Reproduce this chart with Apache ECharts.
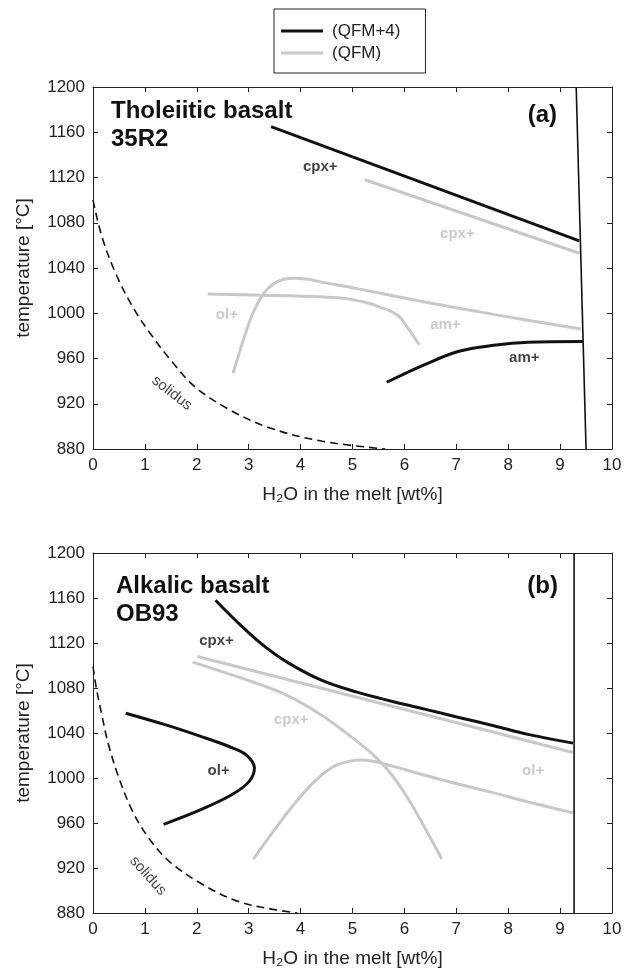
<!DOCTYPE html>
<html>
<head>
<meta charset="utf-8">
<script src="https://cdn.jsdelivr.net/npm/echarts@6/dist/echarts.min.js"></script>
<style>
  html, body { margin: 0; padding: 0; background: #fff; }
  #chart { width: 626px; height: 975px; }
</style>
</head>
<body>
<div id="chart"></div>
<script>
// Axis ranges and ticks (shared by both panels)
const xTicks = [0, 1, 2, 3, 4, 5, 6, 7, 8, 9, 10];
const yTicks = [880, 920, 960, 1000, 1040, 1080, 1120, 1160, 1200];

// Panel (a): tholeiitic basalt 35R2 — [H2O wt%, T °C]
const tholCpxQfm4 = [[3.43, 1165], [9.37, 1064]];
const tholCpxQfm = [[5.24, 1118], [9.37, 1053]];
const tholOlQfm = [[2.70, 947], [2.88, 974], [3.08, 1000], [3.28, 1017], [3.48, 1026], [3.68, 1030],
  [3.87, 1031], [4.14, 1030], [4.40, 1027.5], [5.07, 1022], [6.39, 1010], [7.72, 999], [9.40, 986]];
const tholAmQfm = [[2.21, 1017], [3.28, 1016], [4.40, 1014.5], [4.93, 1012.7], [5.33, 1008.6],
  [5.55, 1005], [5.73, 1002], [5.90, 997], [6.05, 988], [6.29, 972]];
const tholAmQfm4 = [[5.66, 939], [6.39, 954.6], [7.05, 966.4], [7.72, 971.7], [8.38, 974.4], [9.44, 975]];
const tholSolidus = [[0, 1100], [0.17, 1068], [0.43, 1036], [0.76, 1006], [1.09, 983], [1.49, 959],
  [1.95, 935.5], [2.62, 915], [3.41, 898.6], [4.40, 887], [5.63, 880]];
const tholLiquidus = [[9.31, 1200], [9.50, 880]];
const tholLabels = [
  ['cpx+', 4.38, 1129, 'k'], ['cpx+', 7.02, 1070, 'g'], ['ol+', 2.58, 999, 'g'],
  ['am+', 6.79, 990, 'g'], ['am+', 8.31, 960.5, 'k'], ['solidus', 1.52, 929.5, 's']
];

// Panel (b): alkalic basalt OB93
const alkCpxQfm4 = [[2.36, 1158], [2.75, 1140], [3.21, 1120.6], [3.74, 1103], [4.40, 1087], [5.07, 1076.5],
  [5.73, 1068.5], [6.39, 1061.2], [7.05, 1053.8], [7.72, 1046.5], [8.38, 1038.8], [9.25, 1031]];
const alkCpxQfm = [[2.01, 1108], [9.25, 1022.6]];
const alkAmQfm = [[1.92, 1103], [3.08, 1085.3], [3.74, 1073.5], [4.40, 1056], [4.93, 1038.2], [5.40, 1020.6],
  [5.73, 1004.4], [6.06, 982.4], [6.39, 956], [6.72, 928]];
const alkOlQfm = [[3.09, 928], [3.48, 953], [3.87, 976.5], [4.27, 997], [4.67, 1011], [5.20, 1016],
  [5.73, 1011], [6.39, 1002.4], [7.05, 994.4], [7.72, 986.8], [8.38, 978.8], [9.25, 969]];
const alkOlQfm4 = [[0.63, 1057.6], [1.42, 1047], [2.09, 1036.8], [2.62, 1028], [2.95, 1020.6], [3.11, 1008.8],
  [3.01, 997], [2.68, 985.3], [2.09, 972.1], [1.36, 958.8]];
const alkSolidus = [[0, 1099], [0.066, 1079.4], [0.17, 1056], [0.30, 1029.4], [0.50, 1000], [0.76, 970.6],
  [1.09, 945.6], [1.49, 925], [2.09, 906], [2.75, 891], [3.38, 884], [3.94, 880]];
const alkLiquidus = [[9.27, 1200], [9.27, 880]];
const alkLabels = [
  ['cpx+', 2.38, 1122, 'k'], ['cpx+', 3.82, 1051.5, 'g'], ['ol+', 2.42, 1006, 'k'],
  ['ol+', 8.48, 1006, 'g'], ['solidus', 1.06, 913, 's']
];

const legendNames = ['(QFM+4)', '(QFM)'];

const FONT = "'Liberation Sans', Arial, Helvetica, sans-serif";
const BLACK = '#111111';
const GRAY = '#c8c8c8';
const AXIS = '#222222';

function xAxisPair(gridIndex) {
  const base = {
    gridIndex, type: 'value', min: xTicks[0], max: xTicks[xTicks.length - 1], interval: 1,
    axisLine: { onZero: false, lineStyle: { color: AXIS, width: 1 } },
    axisTick: { inside: true, length: 5, lineStyle: { color: AXIS } },
    splitLine: { show: false }
  };
  return [
    Object.assign({}, base, {
      position: 'bottom',
      name: 'H\u2082O in the melt [wt%]', nameLocation: 'middle', nameGap: 36,
      nameTextStyle: { fontFamily: FONT, fontSize: 19, color: AXIS },
      axisLabel: { fontFamily: FONT, fontSize: 17, color: AXIS, margin: 8, formatter: v => String(v) }
    }),
    Object.assign({}, base, { position: 'top', axisLabel: { show: false } })
  ];
}
function yAxisPair(gridIndex) {
  const base = {
    gridIndex, type: 'value', min: yTicks[0], max: yTicks[yTicks.length - 1], interval: 40,
    axisLine: { onZero: false, lineStyle: { color: AXIS, width: 1 } },
    axisTick: { inside: true, length: 5, lineStyle: { color: AXIS } },
    splitLine: { show: false }
  };
  return [
    Object.assign({}, base, {
      position: 'left',
      name: 'temperature [°C]', nameLocation: 'middle', nameGap: 60, nameRotate: 90,
      nameTextStyle: { fontFamily: FONT, fontSize: 19, color: AXIS },
      axisLabel: { fontFamily: FONT, fontSize: 17, color: AXIS, margin: 8, formatter: v => String(v) }
    }),
    Object.assign({}, base, { position: 'right', axisLabel: { show: false } })
  ];
}

function curve(name, data, color, axisIdx, extra) {
  return Object.assign({
    type: 'line', name, data, xAxisIndex: axisIdx, yAxisIndex: axisIdx,
    showSymbol: false, symbol: 'none', smooth: 0.35, silent: true,
    lineStyle: { color, width: 3 }, itemStyle: { color }, z: color === GRAY ? 2 : 3
  }, extra || {});
}

function labelSeries(list, axisIdx) {
  return {
    type: 'scatter', xAxisIndex: axisIdx, yAxisIndex: axisIdx, symbolSize: 0, silent: true, z: 10,
    data: list.map(([text, x, y, kind]) => ({
      value: [x, y], name: text,
      label: {
        show: true, position: 'inside', formatter: text,
        fontFamily: FONT,
        fontSize: 15,
        fontWeight: kind === 's' ? 'normal' : 'bold',
        color: kind === 'g' ? '#bdbdbd' : BLACK,
        rotate: kind === 's' ? (axisIdx === 0 ? -38 : -48) : 0
      }
    }))
  };
}

function panelSeries(p, axisIdx) {
  return [
    curve('solidus', p.solidus, BLACK, axisIdx, { lineStyle: { color: BLACK, width: 1.6, type: [8, 5] } }),
    curve('liquidus', p.liquidus, BLACK, axisIdx, { smooth: false, lineStyle: { color: BLACK, width: 1.6 } }),
    ...p.gray.map(d => curve('(QFM)', d, GRAY, axisIdx)),
    ...p.black.map(d => curve('(QFM+4)', d, BLACK, axisIdx)),
    labelSeries(p.labels, axisIdx)
  ];
}

const chart = echarts.init(document.getElementById('chart'), null, { renderer: 'canvas' });
chart.setOption({
  animation: false,
  backgroundColor: '#ffffff',
  textStyle: { fontFamily: FONT },
  title: [
    { text: 'Tholeiitic basalt\n35R2', left: 106, top: 92,
      textStyle: { fontFamily: FONT, fontSize: 24, fontWeight: 'bold', color: BLACK, lineHeight: 28 } },
    { text: '(a)', right: 64, top: 98,
      textStyle: { fontFamily: FONT, fontSize: 24, fontWeight: 'bold', color: BLACK } },
    { text: 'Alkalic basalt\nOB93', left: 111, top: 567,
      textStyle: { fontFamily: FONT, fontSize: 24, fontWeight: 'bold', color: BLACK, lineHeight: 28 } },
    { text: '(b)', right: 63, top: 569,
      textStyle: { fontFamily: FONT, fontSize: 24, fontWeight: 'bold', color: BLACK } }
  ],
  legend: {
    data: legendNames, orient: 'vertical', left: 274, top: 9,
    padding: [12, 25, 10, 7], itemGap: 2, itemWidth: 42, itemHeight: 14,
    icon: 'path://M0,0L42,0L42,3L0,3Z',
    borderColor: AXIS, borderWidth: 1, borderRadius: 0,
    textStyle: { fontFamily: FONT, fontSize: 17, color: AXIS, lineHeight: 20, padding: [0, 0, 0, 4] },
    selectedMode: false
  },
  grid: [
    { left: 93, top: 87, width: 519, height: 362 },
    { left: 93, top: 553, width: 519, height: 360 }
  ],
  xAxis: [...xAxisPair(0), ...xAxisPair(1)],
  yAxis: [...yAxisPair(0), ...yAxisPair(1)],
  series: [
    ...panelSeries({
      solidus: tholSolidus, liquidus: tholLiquidus,
      gray: [tholCpxQfm, tholOlQfm, tholAmQfm], black: [tholCpxQfm4, tholAmQfm4], labels: tholLabels
    }, 0),
    ...panelSeries({
      solidus: alkSolidus, liquidus: alkLiquidus,
      gray: [alkCpxQfm, alkAmQfm, alkOlQfm], black: [alkCpxQfm4, alkOlQfm4], labels: alkLabels
    }, 2)
  ]
});
</script>
</body>
</html>
